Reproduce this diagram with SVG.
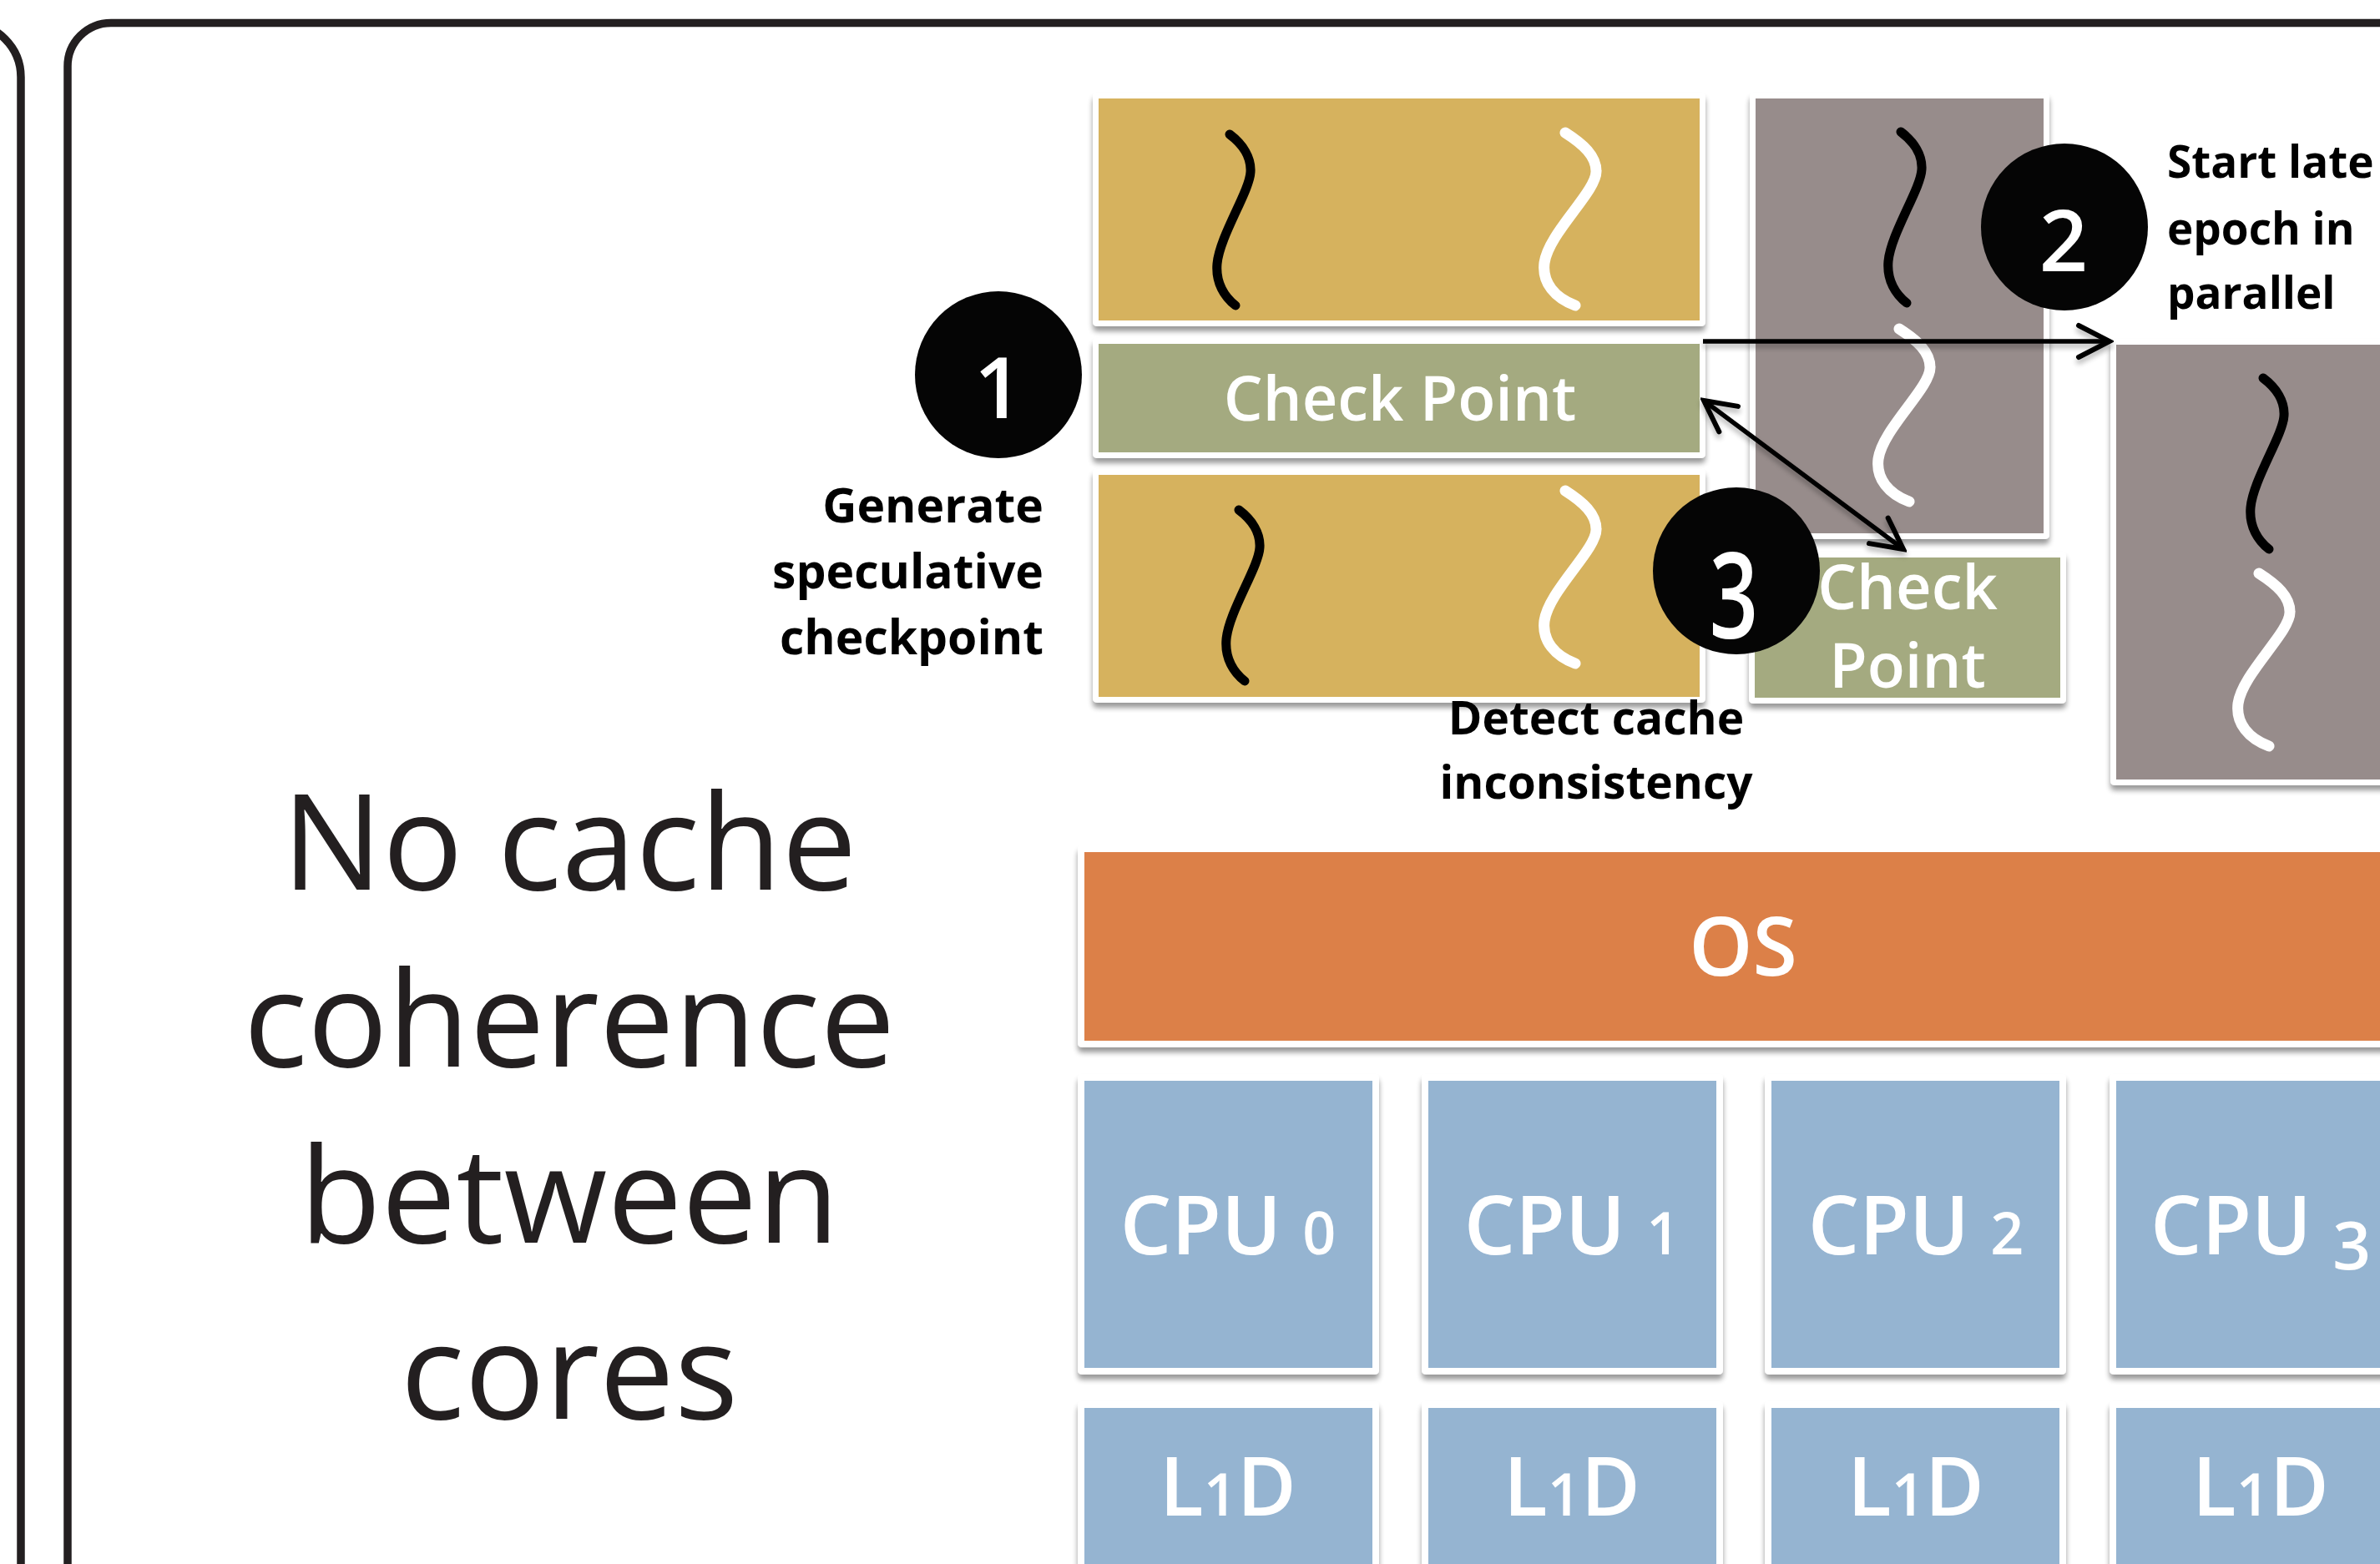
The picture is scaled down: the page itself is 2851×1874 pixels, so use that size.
<svg xmlns="http://www.w3.org/2000/svg" width="2851" height="1874" viewBox="0 0 2851 1874">
<style>
.frame{fill:none;stroke:#231F20;stroke-width:9.5}
.outer{fill:#FFFFFF;filter:url(#sh)}
.yel{fill:#D6B25E}
.grn{fill:#A4AA80}
.gry{fill:#978C8B}
.org{fill:#DC8048}
.blu{fill:#95B4D1}
.lbl{font-family:"Open Sans","Noto Sans",sans-serif;font-weight:700;fill:#000000}
.wt{font-family:"Open Sans","Noto Sans",sans-serif;font-weight:600;fill:#FFFFFF;text-anchor:middle}
.num{font-family:"Open Sans","Noto Sans",sans-serif;font-weight:600;fill:#FFFFFF;text-anchor:middle;font-size:102px}
.big{font-family:"Open Sans","Noto Sans",sans-serif;font-weight:400;fill:#231F20;text-anchor:middle;font-size:160px}
.conn{fill:none;stroke:#000000;stroke-width:5.5}
.thrB{fill:none;stroke:#000000;stroke-width:11;stroke-linecap:round}
.thrW{fill:none;stroke:#FFFFFF;stroke-width:13;stroke-linecap:round}
.circ{fill:#050505}
</style>
<defs>
<filter id="sh" x="-5%" y="-10%" width="110%" height="130%">
<feGaussianBlur in="SourceAlpha" stdDeviation="3"/>
<feOffset dy="6"/>
<feComponentTransfer><feFuncA type="linear" slope="0.4"/></feComponentTransfer>
<feMerge><feMergeNode/><feMergeNode in="SourceGraphic"/></feMerge>
</filter>
<filter id="lsh" x="-10%" y="-10%" width="120%" height="130%">
<feGaussianBlur in="SourceAlpha" stdDeviation="3"/>
<feOffset dy="5"/>
<feComponentTransfer><feFuncA type="linear" slope="0.3"/></feComponentTransfer>
<feMerge><feMergeNode/><feMergeNode in="SourceGraphic"/></feMerge>
</filter>
<marker id="arr" markerUnits="userSpaceOnUse" viewBox="-45 -25 50 50" refX="0" refY="0" markerWidth="50" markerHeight="50" orient="auto-start-reverse">
<path d="M-37,-19 L0,0 L-37,19" fill="none" stroke="#000000" stroke-width="6" stroke-linecap="round"/>
</marker>
<path id="tb" d="M0,0 C16,12 26,28 25,45 C24,68 -12,122 -15,155 C-17,178 -6,195 7,205"/>
<path id="tw" d="M0,0 C22,14 37,28 37,46 C38,70 -20,120 -25,156 C-28,180 -12,198 12,207"/>
</defs>

<g id="frames">
<rect class="frame" x="-500" y="27.5" width="525" height="2000" rx="65"/>
<rect class="frame" x="81" y="27.5" width="3000" height="2000" rx="52"/>
</g>

<g id="epoch-top">
<rect class="outer" x="1309" y="111" width="734" height="280" rx="5"/>
<rect class="yel" x="1316" y="118" width="720" height="266"/>
<use href="#tb" class="thrB" x="1473" y="161"/>
<use href="#tw" class="thrW" x="1875" y="159"/>
</g>

<g id="checkpoint-main">
<rect class="outer" x="1309" y="405" width="734" height="144" rx="5"/>
<rect class="grn" x="1316" y="412" width="720" height="130"/>
<text class="wt" x="1677" y="504" font-size="74">Check Point</text>
</g>

<g id="epoch-bottom">
<rect class="outer" x="1309" y="562" width="734" height="280" rx="5"/>
<rect class="yel" x="1316" y="569" width="720" height="266"/>
<use href="#tb" class="thrB" x="1484" y="611"/>
<use href="#tw" class="thrW" x="1875" y="588"/>
</g>

<g id="epoch-mid">
<rect class="outer" x="2096" y="111" width="359" height="535" rx="5"/>
<rect class="gry" x="2103" y="118" width="345" height="521"/>
<use href="#tb" class="thrB" x="2277" y="158"/>
<use href="#tw" class="thrW" x="2275" y="394"/>
</g>

<g id="checkpoint-small">
<rect class="outer" x="2095" y="661" width="380" height="182" rx="5"/>
<rect class="grn" x="2102" y="668" width="366" height="168"/>
<text class="wt" x="2285" y="730" font-size="74">Check</text>
<text class="wt" x="2285" y="824" font-size="74">Point</text>
</g>

<g id="epoch-right">
<rect class="outer" x="2528" y="406" width="420" height="535" rx="5"/>
<rect class="gry" x="2535" y="413" width="400" height="521"/>
<use href="#tb" class="thrB" x="2711" y="453"/>
<use href="#tw" class="thrW" x="2706" y="687"/>
</g>

<g id="os">
<rect class="outer" x="1291" y="1013" width="1700" height="242" rx="5"/>
<rect class="org" x="1299" y="1021" width="1700" height="226"/>
<text class="wt" x="2088" y="1169" font-size="97">OS</text>
</g>

<g id="cpu0">
<rect class="outer" x="1291" y="1287" width="361" height="360" rx="5"/>
<rect class="blu" x="1299" y="1295" width="345" height="344"/>
<text class="wt" x="1471" y="1503" font-size="97">CPU <tspan font-size="70">0</tspan></text>
</g>
<g id="cpu1">
<rect class="outer" x="1703" y="1287" width="361" height="360" rx="5"/>
<rect class="blu" x="1711" y="1295" width="345" height="344"/>
<text class="wt" x="1883" y="1503" font-size="97">CPU <tspan font-size="70">1</tspan></text>
</g>
<g id="cpu2">
<rect class="outer" x="2114" y="1287" width="361" height="360" rx="5"/>
<rect class="blu" x="2122" y="1295" width="345" height="344"/>
<text class="wt" x="2295" y="1503" font-size="97">CPU <tspan font-size="70">2</tspan></text>
</g>
<g id="cpu3">
<rect class="outer" x="2527" y="1287" width="361" height="360" rx="5"/>
<rect class="blu" x="2535" y="1295" width="345" height="344"/>
<text class="wt" x="2708" y="1503" font-size="97">CPU <tspan font-size="80" dy="18">3</tspan></text>
</g>

<g id="l1d0">
<rect class="outer" x="1291" y="1679" width="361" height="300" rx="5"/>
<rect class="blu" x="1299" y="1687" width="345" height="300"/>
<text class="wt" x="1471" y="1816" font-size="97">L<tspan font-size="70">1</tspan>D</text>
</g>
<g id="l1d1">
<rect class="outer" x="1703" y="1679" width="361" height="300" rx="5"/>
<rect class="blu" x="1711" y="1687" width="345" height="300"/>
<text class="wt" x="1883" y="1816" font-size="97">L<tspan font-size="70">1</tspan>D</text>
</g>
<g id="l1d2">
<rect class="outer" x="2114" y="1679" width="361" height="300" rx="5"/>
<rect class="blu" x="2122" y="1687" width="345" height="300"/>
<text class="wt" x="2295" y="1816" font-size="97">L<tspan font-size="70">1</tspan>D</text>
</g>
<g id="l1d3">
<rect class="outer" x="2527" y="1679" width="361" height="300" rx="5"/>
<rect class="blu" x="2535" y="1687" width="345" height="300"/>
<text class="wt" x="2708" y="1816" font-size="97">L<tspan font-size="70">1</tspan>D</text>
</g>

<g id="connectors" filter="url(#lsh)">
<line class="conn" x1="2040" y1="409" x2="2527" y2="409" marker-end="url(#arr)"/>
<line class="conn" x1="2041" y1="480" x2="2280" y2="658" marker-start="url(#arr)" marker-end="url(#arr)"/>
</g>

<g id="step1">
<circle class="circ" cx="1196" cy="449" r="100"/>
<text class="num" x="1196" y="501">1</text>
<text class="lbl" text-anchor="end" font-size="57"><tspan x="1250" y="626">Generate</tspan><tspan x="1250" y="705">speculative</tspan><tspan x="1250" y="784">checkpoint</tspan></text>
</g>

<g id="step2">
<circle class="circ" cx="2473" cy="272" r="100"/>
<text class="num" x="2472" y="325">2</text>
<text class="lbl" font-size="53"><tspan x="2596" y="213">Start late</tspan><tspan x="2596" y="293">epoch in</tspan><tspan x="2596" y="370">parallel</tspan></text>
</g>

<g id="step3">
<circle class="circ" cx="2080" cy="684" r="100"/>
<text class="num" transform="translate(2077,765) scale(1,1.4)" x="0" y="0">3</text>
<text class="lbl" text-anchor="middle" font-size="55"><tspan x="1912" y="880">Detect cache</tspan><tspan x="1912" y="957">inconsistency</tspan></text>
</g>

<g id="note">
<text class="big"><tspan x="682" y="1066">No cache</tspan><tspan x="682" y="1278">coherence</tspan><tspan x="682" y="1489">between</tspan><tspan x="682" y="1700">cores</tspan></text>
</g>
</svg>
